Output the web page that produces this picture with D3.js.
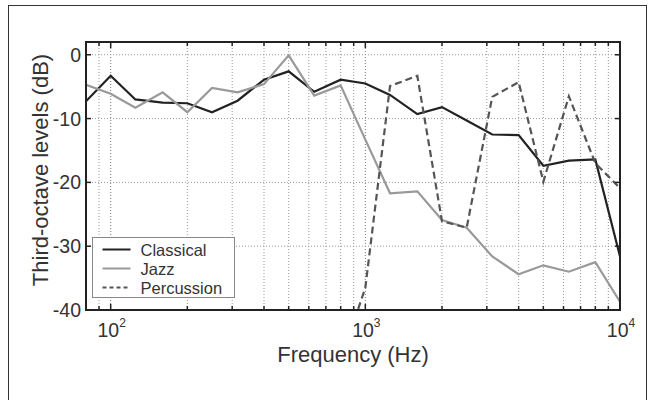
<!DOCTYPE html>
<html>
<head>
<meta charset="utf-8">
<script src="https://cdn.jsdelivr.net/npm/d3@7"></script>
<style>
  html, body { margin: 0; padding: 0; background: #fff; }
  svg { display: block; font-family: "Liberation Sans", Arial, sans-serif; }
</style>
</head>
<body>
<svg id="chart" width="648" height="400"></svg>
<script>
// third-octave band centres (Hz)
const freqs = [80, 100, 125, 160, 200, 250, 315, 400, 500, 630, 800,
               1000, 1250, 1600, 2000, 2500, 3150, 4000, 5000, 6300, 8000, 10000];

const classical = [-7.3, -3.3, -7.0, -7.5, -7.6, -9.0, -7.2, -3.9, -2.6, -5.8, -3.9,
                   -4.5, -6.3, -9.3, -8.2, -10.3, -12.5, -12.6, -17.4, -16.6, -16.4, -31.6];
const jazz = [-4.7, -6.1, -8.3, -5.9, -9.0, -5.2, -5.9, -4.6, -0.1, -6.4, -4.8,
              -13.3, -21.7, -21.4, -25.9, -27.1, -31.6, -34.4, -33.0, -34.0, -32.5, -38.7];
// percussion only from 800 Hz up (lower bands far below the axis)
const percFreqs = [800, 1000, 1250, 1600, 2000, 2500, 3150, 4000, 5000, 6300, 8000, 10000];
const percussion = [-48, -36.5, -4.9, -3.3, -26.1, -27.1, -6.6, -4.3, -19.9, -6.5, -17.0, -20.9];

const yTicks = [0, -10, -20, -30, -40];
const xDecades = [100, 1000, 10000];
const xGrid = [90, 100, 200, 300, 400, 500, 600, 700, 800, 900, 1000,
               2000, 3000, 4000, 5000, 6000, 7000, 8000, 9000, 10000];

const series = [
    { name: "Classical", xs: freqs, ys: classical, color: "#222", dash: null, width: 2.2 },
    { name: "Jazz", xs: freqs, ys: jazz, color: "#999", dash: null, width: 2.2 },
    { name: "Percussion", xs: percFreqs, ys: percussion, color: "#555", dash: "7,4", width: 2.2 }
];

const svg = d3.select("#chart");
const mLeft = 86, mRight = 620, mTop = 42, mBottom = 310;

// outer frame
svg.append("rect")
    .attr("x", 8.5).attr("y", 5.5)
    .attr("width", 638).attr("height", 400)
    .attr("fill", "none").attr("stroke", "#333").attr("stroke-width", 1);

const x = d3.scaleLog().domain([80, 10000]).range([mLeft, mRight]);
const y = d3.scaleLinear().domain([-40, 2]).range([mBottom, mTop]);

svg.append("clipPath").attr("id", "plot-clip")
    .append("rect")
    .attr("x", mLeft).attr("y", mTop)
    .attr("width", mRight - mLeft).attr("height", mBottom - mTop);

// Grid
const grid = svg.append("g").attr("class", "grid");
grid.selectAll("line.gx")
    .data(xGrid)
    .join("line")
    .attr("class", "gx")
    .attr("x1", d => x(d)).attr("x2", d => x(d))
    .attr("y1", mTop).attr("y2", mBottom)
    .attr("stroke", d => xDecades.includes(d) ? "#777" : "#999")
    .attr("stroke-width", 1)
    .attr("stroke-dasharray", "1,2");

grid.selectAll("line.gy")
    .data(yTicks)
    .join("line")
    .attr("class", "gy")
    .attr("x1", mLeft).attr("x2", mRight)
    .attr("y1", d => y(d)).attr("y2", d => y(d))
    .attr("stroke", "#999")
    .attr("stroke-width", 1)
    .attr("stroke-dasharray", "1,2");

// Lines
const line = d3.line()
    .x(d => x(d[0]))
    .y(d => y(d[1]));

svg.append("g")
    .attr("clip-path", "url(#plot-clip)")
    .selectAll("path")
    .data(series)
    .join("path")
    .attr("d", s => line(s.xs.map((f, i) => [f, s.ys[i]])))
    .attr("fill", "none")
    .attr("stroke", s => s.color)
    .attr("stroke-width", s => s.width)
    .attr("stroke-dasharray", s => s.dash)
    .attr("stroke-linejoin", "miter");

// Axes box with inward ticks
const axes = svg.append("g").attr("class", "axes");
axes.append("rect")
    .attr("x", mLeft).attr("y", mTop)
    .attr("width", mRight - mLeft).attr("height", mBottom - mTop)
    .attr("fill", "none").attr("stroke", "#222").attr("stroke-width", 2);

xGrid.forEach(d => {
    const len = xDecades.includes(d) ? 6 : 4;
    axes.append("line")
        .attr("x1", x(d)).attr("x2", x(d))
        .attr("y1", mBottom).attr("y2", mBottom - len)
        .attr("stroke", "#222").attr("stroke-width", 1.5);
    axes.append("line")
        .attr("x1", x(d)).attr("x2", x(d))
        .attr("y1", mTop).attr("y2", mTop + len)
        .attr("stroke", "#222").attr("stroke-width", 1.5);
});
yTicks.forEach(d => {
    axes.append("line")
        .attr("x1", mLeft).attr("x2", mLeft + 5)
        .attr("y1", y(d)).attr("y2", y(d))
        .attr("stroke", "#222").attr("stroke-width", 1.5);
    axes.append("line")
        .attr("x1", mRight).attr("x2", mRight - 5)
        .attr("y1", y(d)).attr("y2", y(d))
        .attr("stroke", "#222").attr("stroke-width", 1.5);
});

// Y tick labels
svg.append("g")
    .selectAll("text")
    .data(yTicks)
    .join("text")
    .attr("x", mLeft - 5)
    .attr("y", d => y(d) + 7)
    .attr("text-anchor", "end")
    .attr("font-size", 19.5)
    .attr("fill", "#333")
    .text(d => d);

// X tick labels (10^n)
const xl = svg.append("g")
    .selectAll("text")
    .data(xDecades)
    .join("text")
    .attr("x", d => x(d) + 1)
    .attr("y", 337)
    .attr("text-anchor", "middle")
    .attr("font-size", 19.5)
    .attr("fill", "#333");
xl.append("tspan").text("10");
xl.append("tspan")
    .attr("dy", -10)
    .attr("font-size", 12)
    .text(d => Math.round(Math.log10(d)));

// Axis titles
svg.append("text")
    .attr("x", (mLeft + mRight) / 2)
    .attr("y", 362)
    .attr("text-anchor", "middle")
    .attr("font-size", 22)
    .attr("fill", "#333")
    .text("Frequency (Hz)");

svg.append("text")
    .attr("transform", `translate(48,${(mTop + mBottom) / 2 - 6}) rotate(-90)`)
    .attr("text-anchor", "middle")
    .attr("font-size", 22)
    .attr("fill", "#333")
    .text("Third-octave levels (dB)");

// Legend
const legend = svg.append("g").attr("transform", "translate(92.5,237.5)");
legend.append("rect")
    .attr("width", 142).attr("height", 60)
    .attr("fill", "#fff").attr("stroke", "#888").attr("stroke-width", 1);

const items = legend.selectAll("g.item")
    .data(series)
    .join("g")
    .attr("class", "item")
    .attr("transform", (d, i) => `translate(0,${12 + i * 19})`);
items.append("line")
    .attr("x1", 10).attr("x2", 38)
    .attr("stroke", d => d.color)
    .attr("stroke-width", 2)
    .attr("stroke-dasharray", d => d.dash ? "4,3" : null);
items.append("text")
    .attr("x", 48).attr("y", 6)
    .attr("font-size", 16.5)
    .attr("fill", "#333")
    .text(d => d.name);
</script>
</body>
</html>
